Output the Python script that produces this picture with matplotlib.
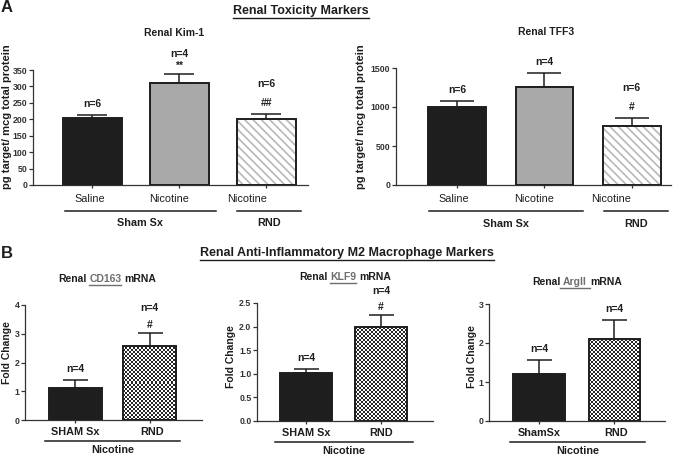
import numpy as np
import matplotlib
matplotlib.use('Agg')
import matplotlib.pyplot as plt
from matplotlib.lines import Line2D

plt.rcParams['font.family'] = ['Liberation Sans', 'DejaVu Sans']
plt.rcParams['hatch.linewidth'] = 1.2

W, H = 692, 458
DARK = '#1e1e1e'
GRAY = '#a9a9a9'
LINK = '#6e6e6e'

# panel A: Renal Kim-1
kim_labels = ['Saline', 'Nicotine', 'Nicotine']
kim_mean = [205, 309, 202]
kim_sem = [8, 29, 14]
kim_n = ['n=6', 'n=4', 'n=6']
kim_sig = ['', '**', '##']

# panel A: Renal TFF3
tff_labels = ['Saline', 'Nicotine', 'Nicotine']
tff_mean = [1005, 1260, 760]
tff_sem = [68, 180, 100]
tff_n = ['n=6', 'n=4', 'n=6']
tff_sig = ['', '', '#']

# panel B: M2 markers (fold change)
b_labels = ['SHAM Sx', 'RND']
argii_labels = ['ShamSx', 'RND']
b_n = ['n=4', 'n=4']
cd163_mean = [1.11, 2.59]
cd163_sem = [0.27, 0.43]
cd163_sig = ['', '#']
klf9_mean = [1.02, 1.99]
klf9_sem = [0.09, 0.26]
klf9_sig = ['', '#']
argii_mean = [1.20, 2.09]
argii_sem = [0.37, 0.51]
argii_sig = ['', '']

fig = plt.figure(figsize=(W / 100, H / 100), dpi=100)
renderer = fig.canvas.get_renderer()


def fx(x):
    return x / W


def fy(y):
    return 1 - y / H


def add_axes(x0, x1, ytop, ybot):
    return fig.add_axes([fx(x0), fy(ybot), (x1 - x0) / W, (ybot - ytop) / H])


def checker(ax, bar, cell=2.0):
    # checkerboard texture clipped to the bar
    bb = bar.get_window_extent()
    nx = max(1, int(round(bb.width / cell)))
    ny = max(1, int(round(bb.height / cell)))
    grid = (np.add.outer(np.arange(ny), np.arange(nx)) % 2) * 0.85 + 0.15
    x0, y0 = bar.get_x(), bar.get_y()
    im = ax.imshow(grid, extent=(x0, x0 + bar.get_width(), y0, y0 + bar.get_height()),
                   origin='lower', cmap='gray', vmin=0, vmax=1, aspect='auto',
                   interpolation='nearest', zorder=2.1)
    im.set_clip_path(bar)


def panel(ax, means, sems, styles, width, xlim, ylim, yticks, ytl, hpx,
          labels, label_dx, label_dy, ns, sigs, capsize, sig_off, gap,
          groups, group_dy, group_text_dy, label_bold):
    x = np.arange(len(means))
    ax.set_xlim(*xlim)
    ax.set_ylim(*ylim)
    for xi, m, st in zip(x, means, styles):
        if st == 'stripe':
            ax.bar(xi, m, width, color='white', hatch='\\\\\\\\', edgecolor='#b8b8b8',
                   linewidth=0, zorder=2)
        elif st == 'check':
            b = ax.bar(xi, m, width, color='white', linewidth=0, zorder=2)[0]
            checker(ax, b)
        else:
            ax.bar(xi, m, width, color=DARK if st == 'black' else GRAY,
                   linewidth=0, zorder=2)
        ax.bar(xi, m, width, fill=False, edgecolor=DARK, linewidth=1.4, zorder=3)
    ax.errorbar(x, means, yerr=[np.zeros(len(sems)), sems], fmt='none', ecolor=DARK,
                elinewidth=1.1, capsize=capsize, capthick=1.1, zorder=1.5)
    for xi, m, s, n, sg in zip(x, means, sems, ns, sigs):
        top = m + s
        if sg:
            dy = sig_off - (3 if sg == '**' else 0)
            ax.annotate(sg, xy=(xi, top), xytext=(0, dy * 0.72), textcoords='offset points',
                        ha='center', va='center', fontsize=7.5, fontweight='bold',
                        color=DARK, annotation_clip=False)
            noff = sig_off + (9 if sg == '**' else gap)
        else:
            noff = 11
        ax.annotate(n, xy=(xi, top), xytext=(0, noff * 0.72), textcoords='offset points',
                    ha='center', va='center', fontsize=7.5, fontweight='bold',
                    color=DARK, annotation_clip=False)

    for sp in ('top', 'right'):
        ax.spines[sp].set_visible(False)
    for sp in ('left', 'bottom'):
        ax.spines[sp].set_linewidth(0.9)
        ax.spines[sp].set_color('#333333')
    ax.set_yticks(yticks)
    ax.set_yticklabels(ytl, fontsize=6.3, fontweight='bold')
    ax.tick_params(axis='y', length=3, width=0.9, pad=1, colors='#333333')
    ax.set_xticks(x)
    ax.set_xticklabels([])
    ax.tick_params(axis='x', length=2, width=0.9, colors='#333333')

    tr = ax.get_xaxis_transform()
    for xi, lab, dx in zip(x, labels, label_dx):
        ax.annotate(lab, xy=(xi, 0), xycoords=tr, xytext=(dx * 0.72, -label_dy * 0.72),
                    textcoords='offset points', ha='center', va='center',
                    fontsize=7.8, fontweight='bold' if label_bold else 'normal',
                    color=DARK, annotation_clip=False)
    for (a, b, name) in groups:
        yl = -group_dy / hpx
        ax.plot([a, b], [yl, yl], transform=tr, clip_on=False, color=DARK, lw=1.1)
        ax.annotate(name, xy=((a + b) / 2, 0), xycoords=tr,
                    xytext=(0, -group_text_dy * 0.72), textcoords='offset points',
                    ha='center', va='center', fontsize=7.8, fontweight='bold',
                    color=DARK, annotation_clip=False)


def underline(t, color, ext=0):
    bb = t.get_window_extent(renderer)
    y = bb.y0 - 1
    fig.add_artist(Line2D([(bb.x0 - ext) / W, (bb.x1 + ext) / W], [y / H, y / H],
                          color=color, lw=1.0))


def text_w(s, **kw):
    t = fig.text(0, 0, s, **kw)
    w = t.get_window_extent(renderer).width
    t.remove()
    return w


def rich_title(cx, y, pre, word, post, fs=7.5, ext=0):
    kw = dict(fontsize=fs, fontweight='bold', va='center', ha='left')
    full = pre + ' ' + word + ' ' + post
    total = text_w(full, **kw)
    left = cx - total / 2
    xw = left + text_w(pre + ' ' + word, **kw) - text_w(word, **kw)
    xp = left + total - text_w(post, **kw)
    fig.text(fx(left), fy(y), pre, color=DARK, **kw)
    tw = fig.text(fx(xw), fy(y), word, color=LINK, **kw)
    fig.text(fx(xp), fy(y), post, color=DARK, **kw)
    underline(tw, LINK, ext=ext)


# ---------------- Panel A ----------------
fig.text(fx(1), fy(8), 'A', fontsize=12, fontweight='bold', color=DARK, va='center')
t = fig.text(fx(301), fy(11), 'Renal Toxicity Markers', fontsize=9, fontweight='bold',
             color=DARK, ha='center', va='center')
underline(t, DARK)

ax1 = add_axes(33, 308, 70, 185)
panel(ax1, kim_mean, kim_sem, ['black', 'gray', 'stripe'], 0.68, (-0.684, 2.48),
      (0, 350), range(0, 351, 50), [str(v) for v in range(0, 351, 50)], 115,
      kim_labels, [-2.5, -10, -19], 14, kim_n, kim_sig, 10.5, 11, 19,
      [(-0.32, 1.42, 'Sham Sx'), (1.66, 2.40, 'RND')], 26, 38, False)
fig.text(fx(174), fy(33), 'Renal Kim-1', fontsize=7.5, fontweight='bold', color=DARK,
         ha='center', va='center')
fig.text(fx(7), fy(117), 'pg target/ mcg total protein', rotation=90, fontsize=8,
         fontweight='bold', color=DARK, ha='center', va='center')

ax2 = add_axes(396, 671, 68, 185)
panel(ax2, tff_mean, tff_sem, ['black', 'gray', 'stripe'], 0.66, (-0.70, 2.45),
      (0, 1500), [0, 500, 1000, 1500], ['0', '500', '1000', '1500'], 117,
      tff_labels, [-3, -10, -21], 14, tff_n, tff_sig, 12, 11, 19,
      [(-0.32, 1.44, 'Sham Sx'), (1.68, 2.42, 'RND')], 26, 39, False)
fig.text(fx(546), fy(32), 'Renal TFF3', fontsize=7.5, fontweight='bold', color=DARK,
         ha='center', va='center')
fig.text(fx(361), fy(117), 'pg target/ mcg total protein', rotation=90, fontsize=8,
         fontweight='bold', color=DARK, ha='center', va='center')

# ---------------- Panel B ----------------
fig.text(fx(1), fy(253), 'B', fontsize=12, fontweight='bold', color=DARK, va='center')
t = fig.text(fx(347), fy(253), 'Renal Anti-Inflammatory M2 Macrophage Markers',
             fontsize=9, fontweight='bold', color=DARK, ha='center', va='center')
underline(t, DARK)

ax3 = add_axes(25, 202, 305, 420)
panel(ax3, cd163_mean, cd163_sem, ['black', 'check'], 0.71, (-0.67, 1.70),
      (0, 4), [0, 1, 2, 3, 4], ['0', '1', '2', '3', '4'], 115,
      b_labels, [0, 2], 12, b_n, cd163_sig, 9, 8, 17,
      [(-0.40, 1.41, 'Nicotine')], 21, 30, True)
rich_title(107, 279, 'Renal', 'CD163', 'mRNA')
fig.text(fx(7), fy(353), 'Fold Change', rotation=90, fontsize=7.5, fontweight='bold',
         color=DARK, ha='center', va='center')

ax4 = add_axes(257, 433, 303, 421)
panel(ax4, klf9_mean, klf9_sem, ['black', 'check'], 0.69, (-0.65, 1.69),
      (0, 2.5), [0, 0.5, 1.0, 1.5, 2.0, 2.5], ['0.0', '0.5', '1.0', '1.5', '2.0', '2.5'],
      118, b_labels, [0, 0], 12, b_n, klf9_sig, 9, 8, 16,
      [(-0.41, 1.43, 'Nicotine')], 21, 30, True)
rich_title(345, 277, 'Renal', 'KLF9', 'mRNA')
fig.text(fx(231), fy(357), 'Fold Change', rotation=90, fontsize=7.5, fontweight='bold',
         color=DARK, ha='center', va='center')

ax5 = add_axes(489, 665, 304, 421)
panel(ax5, argii_mean, argii_sem, ['black', 'check'], 0.68, (-0.66, 1.67),
      (0, 3), [0, 1, 2, 3], ['0', '1', '2', '3'], 117,
      argii_labels, [0, 2], 12, b_n, argii_sig, 9, 8, 17,
      [(-0.38, 1.41, 'Nicotine')], 21, 30, True)
rich_title(577, 282, 'Renal', 'ArgII', 'mRNA', ext=3)
fig.text(fx(472), fy(357), 'Fold Change', rotation=90, fontsize=7.5, fontweight='bold',
         color=DARK, ha='center', va='center')

fig.savefig('out.png', dpi=100)
